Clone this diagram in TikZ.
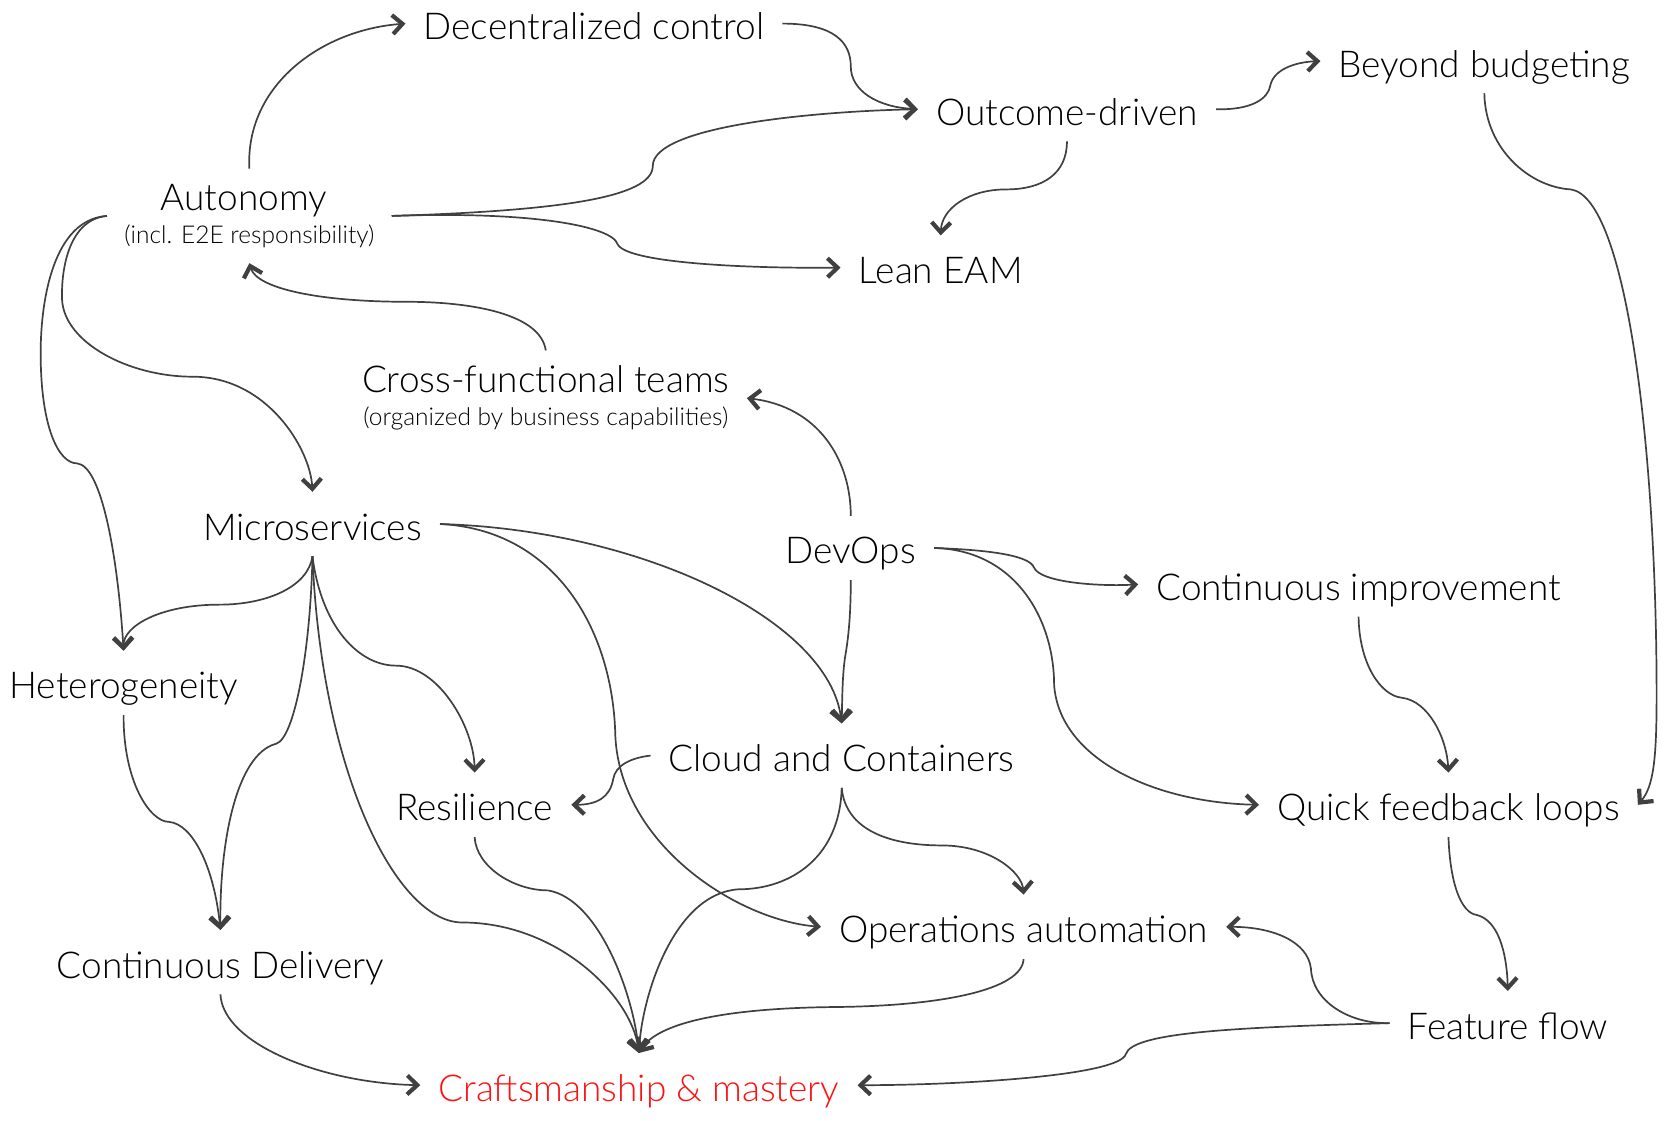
\documentclass[tikz,border=0pt]{standalone}
\usepackage{fontspec}
\setmainfont{Lato}[UprightFont={* Light}]
\usetikzlibrary{arrows.meta,fit}
\definecolor{linec}{HTML}{404040}
\definecolor{craftred}{HTML}{FF1010}
\tikzset{
  lbl/.style={font=\fontsize{37}{44}\selectfont, anchor=base, text height=42pt, text depth=10pt, inner xsep=18pt, inner ysep=6pt},
  mainline/.style={font=\fontsize{37}{44}\selectfont, anchor=base, inner sep=0pt},
  subline/.style={font=\fontsize{24.5}{30}\selectfont, anchor=base, inner sep=0pt},
  group/.style={inner xsep=17pt, inner ysep=15pt},
  conn/.style={draw=linec, line width=1.7pt, -{Straight Barb[line width=4.2pt 0, length=10pt, width=19pt]}},
}
\begin{document}
\begin{tikzpicture}[x=1.0702pt,y=-1.0702pt]
\useasboundingbox (0,0) rectangle (1568,1047);
% nodes
\node[lbl] (dec) at (555,37) {Decentralized control};
\node[lbl] (out) at (997,117) {Outcome-driven};
\node[lbl] (bey) at (1387,72) {Beyond budgeting};
\node[mainline] (autoA) at (228,196.5) {Autonomy};
\node[subline] (autoB) at (233,227.5) {(incl. E2E responsibility)};
\node[group, fit=(autoA)(autoB)] (auto) {};
\node[lbl] (lean) at (879,265) {Lean EAM};
\node[mainline] (cftA) at (510,367) {Cross-functional teams};
\node[subline] (cftB) at (510,398) {(organized by business capabilities)};
\node[group, fit=(cftA)(cftB)] (cft) {};
\node[lbl] (micro) at (292,504.6) {Microservices};
\node[lbl] (devops) at (795,527) {DevOps};
\node[lbl] (ci) at (1269.5,561) {Continuous improvement};
\node[lbl] (het) at (115.5,653) {Heterogeneity};
\node[lbl] (cloud) at (786.5,721) {Cloud and Containers};
\node[lbl] (res) at (443.5,767) {Resilience};
\node[lbl] (qfl) at (1353.5,767) {Quick feedback loops};
\node[lbl] (ops) at (956.5,881) {Operations automation};
\node[lbl] (cd) at (206,914) {Continuous Delivery};
\node[lbl] (ff) at (1409,971) {Feature flow};
\node[lbl, text=craftred] (craft) at (597,1029) {Craftsmanship \& mastery};
% connectors
\draw[conn] (auto.north) .. controls (229,80) and (300,28) .. (dec.west);
\draw[conn] (dec.east) .. controls (780,22) and (795,40) .. (795,62) .. controls (795,85) and (820,100) .. (out.west);
\draw[conn] (auto.east) .. controls (520,197) and (610,185) .. (610,155) .. controls (610,118) and (760,104) .. (out.west);
\draw[conn] (auto.east) .. controls (500,197) and (572,212) .. (577,228) .. controls (585,246) and (700,251) .. (lean.west);
\draw[conn] (out.east) .. controls (1170,103) and (1185,92) .. (1187,80) .. controls (1190,65) and (1210,58) .. (bey.west);
\draw[conn] (out.south) .. controls (997,162) and (975,177) .. (940,177) .. controls (905,177) and (880,195) .. (lean.north);
\draw[conn] (bey.south) .. controls (1388,140) and (1430,175) .. (1468,177) .. controls (1520,185) and (1548,420) .. (1548,650) .. controls (1548,710) and (1545,735) .. (qfl.east);
\draw[conn] (cft.north) .. controls (505,293) and (440,282) .. (380,282) .. controls (300,282) and (240,270) .. (auto.south);
\draw[conn] (auto.west) .. controls (65,205) and (57,250) .. (58,280) .. controls (60,320) and (120,352) .. (180,352) .. controls (250,352) and (290,420) .. (micro.north);
\draw[conn] (auto.west) .. controls (50,205) and (38,280) .. (38,330) .. controls (38,400) and (55,433) .. (72,433) .. controls (95,435) and (110,520) .. (het.north);
\draw[conn] (micro.south) .. controls (288,548) and (250,565) .. (205,565) .. controls (150,565) and (115,585) .. (het.north);
\draw[conn] (micro.south) .. controls (290,610) and (275,690) .. (258,695) .. controls (220,705) and (205,790) .. (cd.north);
\draw[conn] (het.south) .. controls (115,730) and (140,768) .. (158,768) .. controls (180,770) and (200,810) .. (cd.north);
\draw[conn] (micro.south) .. controls (300,585) and (335,622) .. (370,622) .. controls (410,622) and (443,680) .. (res.north);
\draw[conn] (micro.south) .. controls (300,720) and (370,862) .. (432,862) .. controls (520,862) and (590,930) .. (craft.north);
\draw[conn] (micro.east) .. controls (520,495) and (573,590) .. (575,688) .. controls (580,790) and (690,860) .. (ops.west);
\draw[conn] (micro.east) .. controls (600,495) and (775,580) .. (cloud.north);
\draw[conn] (devops.north) .. controls (795,430) and (765,380) .. (cft.east);
\draw[conn] (devops.east) .. controls (930,514) and (962,520) .. (966,530) .. controls (972,545) and (1030,548) .. (ci.west);
\draw[conn] (devops.east) .. controls (950,514) and (985,580) .. (985,640) .. controls (990,710) and (1080,750) .. (qfl.west);
\draw[conn] (ci.south) .. controls (1270,620) and (1290,650) .. (1310,652) .. controls (1335,655) and (1352,690) .. (qfl.north);
\draw[conn] (cloud.west) .. controls (590,708) and (575,715) .. (573,728) .. controls (570,745) and (558,752) .. (res.east);
\draw[conn] (cloud.south) .. controls (790,775) and (830,790) .. (880,790) .. controls (925,790) and (955,815) .. (ops.north);
\draw[conn] (cloud.south) .. controls (785,800) and (740,831) .. (690,831) .. controls (630,835) and (600,930) .. (craft.north);
\draw[conn] (res.south) .. controls (445,810) and (480,832) .. (512,832) .. controls (560,840) and (592,930) .. (craft.north);
\draw[conn] (ops.south) .. controls (955,925) and (880,940) .. (780,941) .. controls (680,942) and (615,955) .. (craft.north);
\draw[conn] (cd.south) .. controls (208,975) and (300,1012) .. (craft.west);
\draw[conn] (qfl.south) .. controls (1355,825) and (1365,853) .. (1380,855) .. controls (1400,860) and (1408,890) .. (ff.north);
\draw[conn] (ff.west) .. controls (1260,957) and (1226,935) .. (1225,905) .. controls (1222,880) and (1190,866) .. (ops.east);
\draw[conn] (ff.west) .. controls (1150,960) and (1058,965) .. (1052,985) .. controls (1046,1005) and (900,1014) .. (craft.east);
\draw[conn] (devops.south) .. controls (795,580) and (792,600) .. (790,612) .. controls (787,630) and (787,655) .. (cloud.north);
\end{tikzpicture}
\end{document}
